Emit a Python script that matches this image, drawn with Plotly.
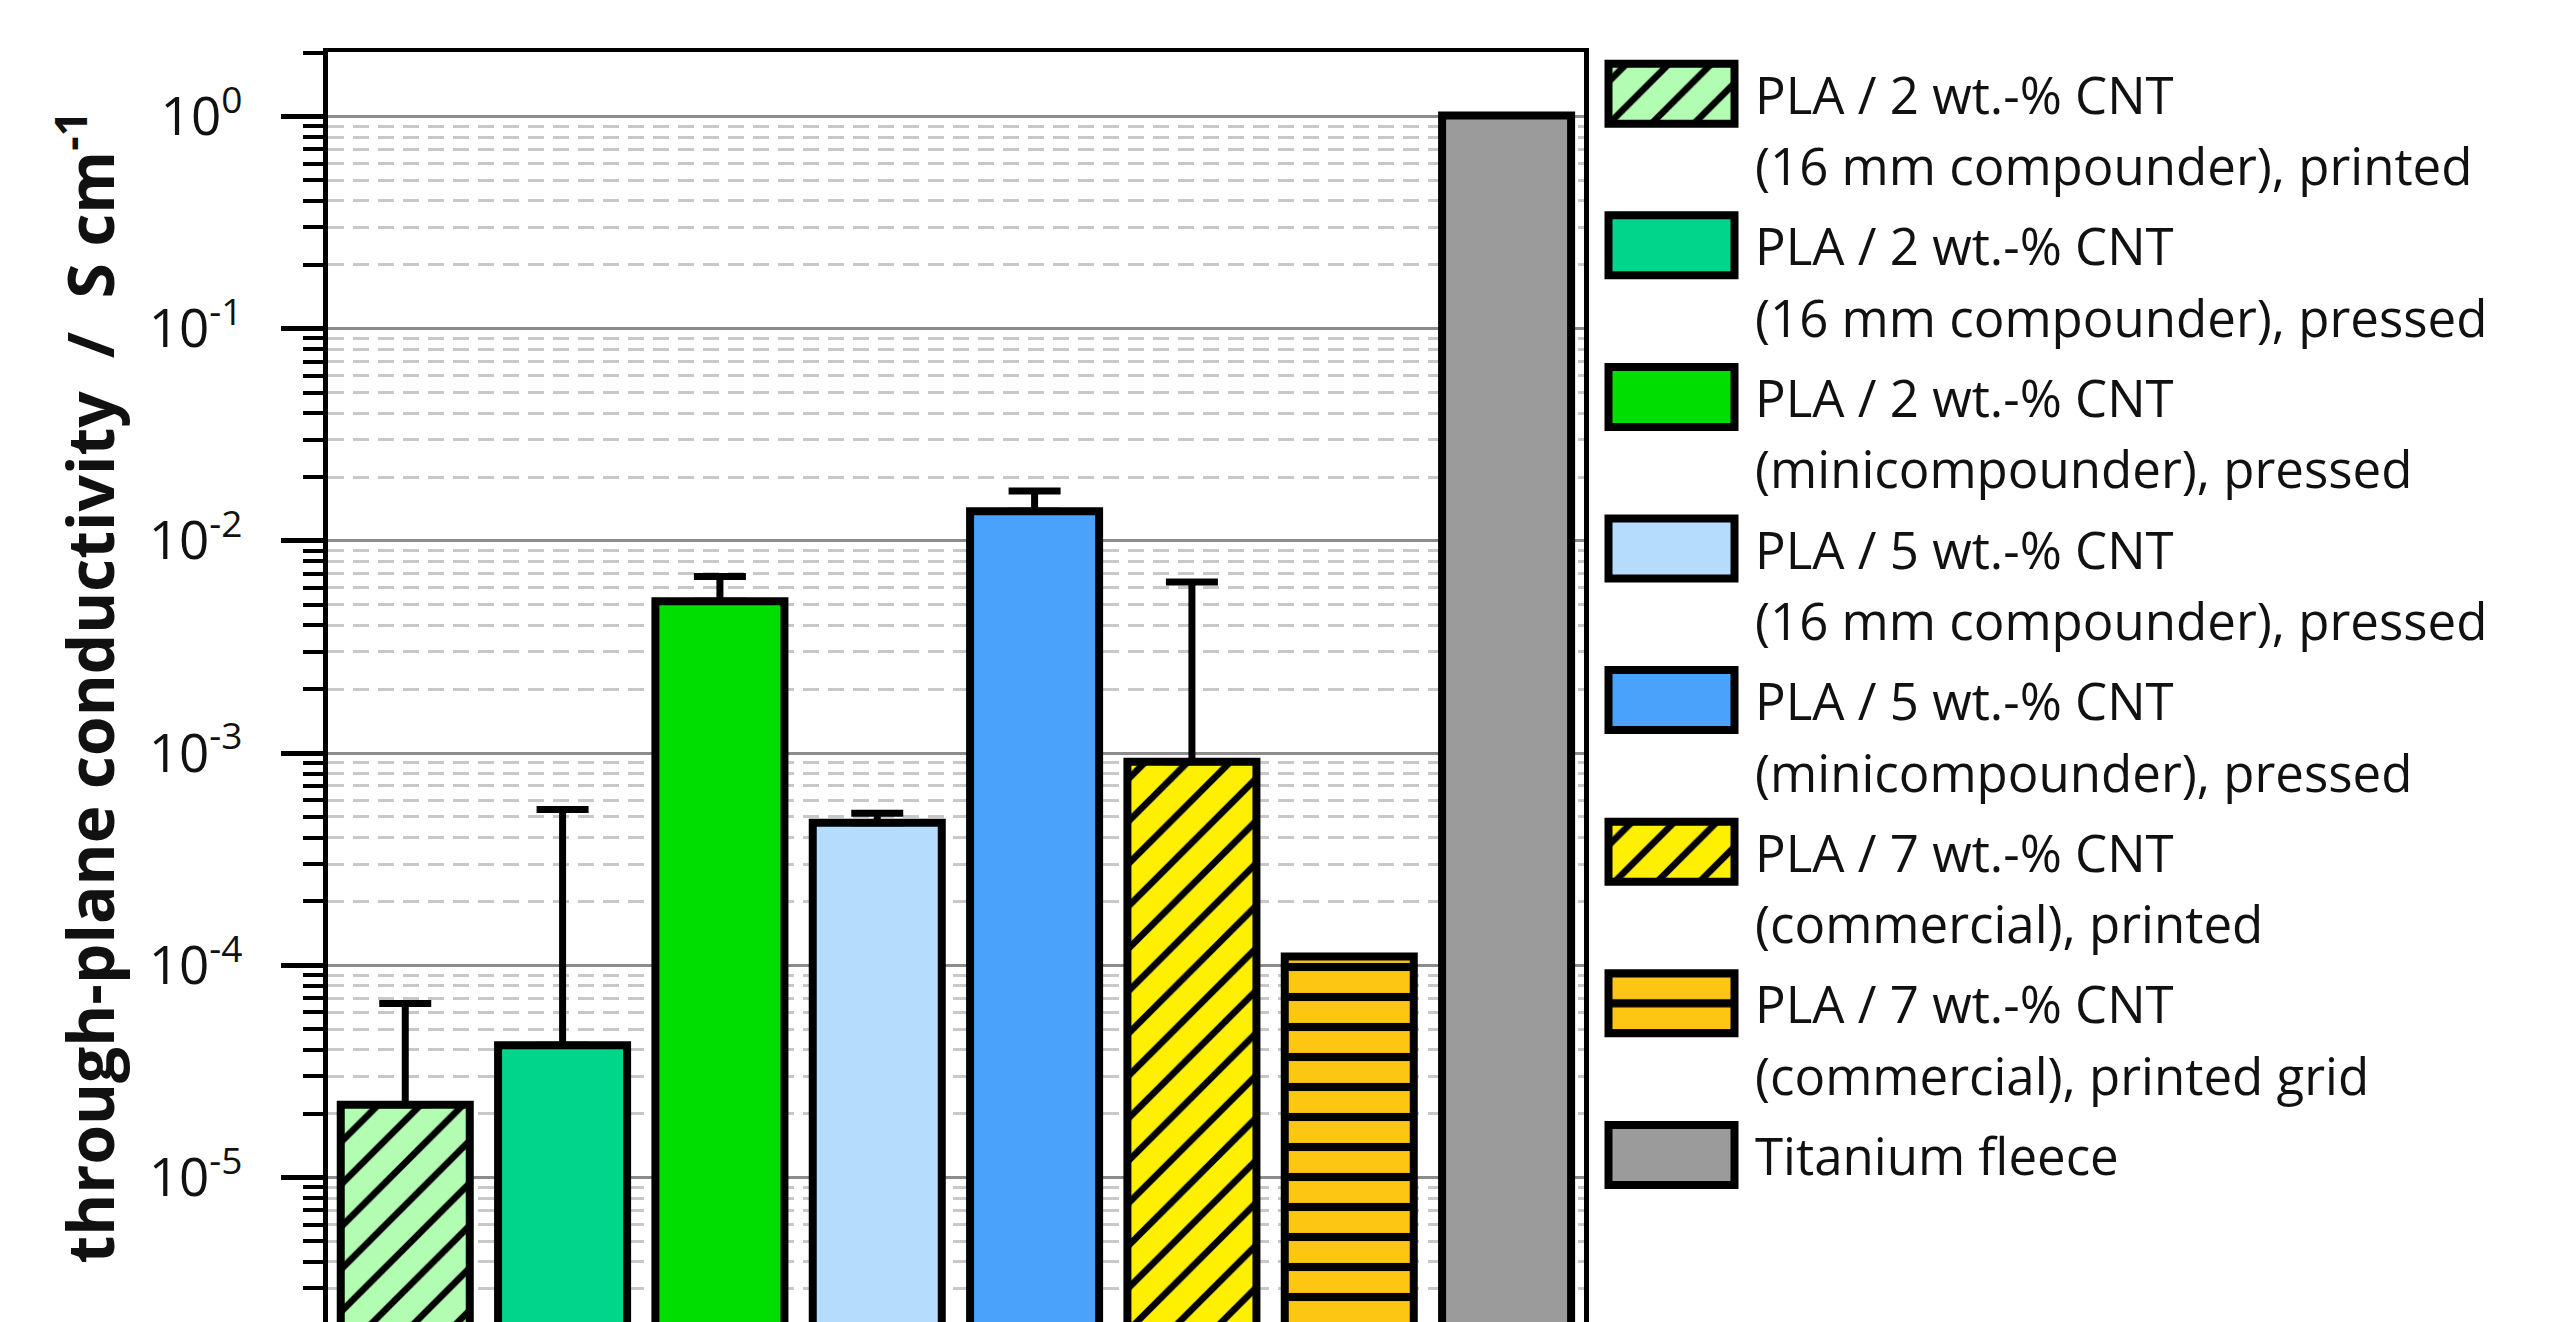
import plotly.graph_objects as go

# ---------------- data ----------------
categories = [
    "PLA / 2 wt.-% CNT\n(16 mm compounder), printed",
    "PLA / 2 wt.-% CNT\n(16 mm compounder), pressed",
    "PLA / 2 wt.-% CNT\n(minicompounder), pressed",
    "PLA / 5 wt.-% CNT\n(16 mm compounder), pressed",
    "PLA / 5 wt.-% CNT\n(minicompounder), pressed",
    "PLA / 7 wt.-% CNT\n(commercial), printed",
    "PLA / 7 wt.-% CNT\n(commercial), printed grid",
    "Titanium fleece",
]
conductivity = [2.2e-5, 4.2e-5, 5.2e-3, 4.7e-4, 1.38e-2, 9.1e-4, 1.1e-4, 1.01]
error_upper = [4.4e-5, 5.0e-4, 1.6e-3, 5.0e-5, 3.4e-3, 5.5e-3, 0, 0]
colors = ["#B3FDB3", "#00D58C", "#00DD00", "#B5DCFC", "#4AA2FB", "#FFEF00", "#FDC612", "#9B9B9B"]
patterns = ["/", "", "", "", "", "/", "-", ""]
tick_values = [1e-5, 1e-4, 1e-3, 1e-2, 1e-1, 1]
tick_labels = ["10<sup>-5</sup>", "10<sup>-4</sup>", "10<sup>-3</sup>",
               "10<sup>-2</sup>", "10<sup>-1</sup>", "10<sup>0</sup>"]
y_title = "through-plane conductivity\u00a0\u00a0/\u00a0\u00a0S cm<sup>-1</sup>"

# ---------------- style ----------------
FONT = "Open Sans"
minor_vals = [m * 10.0 ** e for e in range(-6, 1) for m in range(2, 10)]


def pattern_for(shape, color, legend=False):
    if shape == "-":
        size = 30.2 if legend else 30
        sol = 0.27
    else:
        size = 30
        sol = 0.22
    return dict(shape=shape, fgcolor="#000000", bgcolor=color, fgopacity=1,
                size=size, solidity=sol, fillmode="replace")


fig = go.Figure()

for i, cat in enumerate(categories):
    # main bar
    fig.add_trace(go.Bar(
        x=[cat],
        y=[conductivity[i]],
        width=0.82,
        marker=dict(
            color=colors[i],
            line=dict(color="black", width=8),
            pattern=pattern_for(patterns[i], colors[i]),
        ),
        error_y=dict(type="data", symmetric=False, array=[error_upper[i]], arrayminus=[0],
                     color="black", thickness=7, width=26, visible=error_upper[i] > 0),
        showlegend=False,
        name=cat.replace("\n", " "),
        xaxis="x", yaxis="y",
    ))
    # legend swatch (horizontal bar on a hidden helper axis)
    fig.add_trace(go.Bar(
        x=[1],
        y=[i],
        base=0,
        orientation="h",
        width=0.396,
        marker=dict(
            color=colors[i],
            line=dict(color="black", width=8),
            pattern=pattern_for(patterns[i], colors[i], legend=True),
        ),
        showlegend=False,
        hoverinfo="skip",
        xaxis="x2", yaxis="y2",
    ))

annotations = []
for i, cat in enumerate(categories):
    lines = cat.split("\n")
    for j, line in enumerate(lines):
        annotations.append(dict(
            text=line, xref="paper", yref="y2", x=0.64131, y=i + 0.471 * j,
            xanchor="left", yanchor="middle", showarrow=False,
            font=dict(family=FONT, size=51, color="#111111"),
        ))

annotations.append(dict(
    text=y_title, xref="paper", yref="paper", x=-0.10869, y=0.5,
    xanchor="center", yanchor="middle", textangle=-90, showarrow=False,
    font=dict(family=FONT, size=64, color="#111111", weight="bold"),
))

fig.update_layout(
    width=2542, height=1314,
    margin=dict(l=320, r=0, t=44, b=0, pad=0),
    paper_bgcolor="white", plot_bgcolor="white",
    barmode="overlay",
    annotations=annotations,
    xaxis=dict(
        domain=[0, 0.565257], range=[-0.491, 7.492],
        categoryorder="array", categoryarray=categories,
        showticklabels=False, ticks="", showgrid=False, zeroline=False,
        showline=True, mirror=True, linecolor="black", linewidth=4,
    ),
    yaxis=dict(
        type="log", range=[-5.681, 0.304],
        tickmode="array", tickvals=tick_values, ticktext=tick_labels,
        ticks="outside", ticklen=42, tickwidth=5, tickcolor="black",
        ticklabelstandoff=28,
        tickfont=dict(family=FONT, size=53, color="#111111"),
        showgrid=True, gridcolor="#8c8c8c", gridwidth=2.5,
        showline=True, mirror=True, linecolor="black", linewidth=5,
        zeroline=False,
        minor=dict(tickmode="array", tickvals=minor_vals, ticks="outside",
                   ticklen=20, tickwidth=4, tickcolor="black",
                   showgrid=True, gridcolor="#c8c8c8", gridwidth=2.5,
                   griddash="16px,9px"),
    ),
    xaxis2=dict(domain=[0.570612, 0.638659], range=[-0.1, 1.1], anchor="y2",
                visible=False, fixedrange=True),
    yaxis2=dict(domain=[0, 1], range=[8.1022, -0.2751], anchor="x2",
                visible=False, fixedrange=True),
)

fig.write_html("out.html")
